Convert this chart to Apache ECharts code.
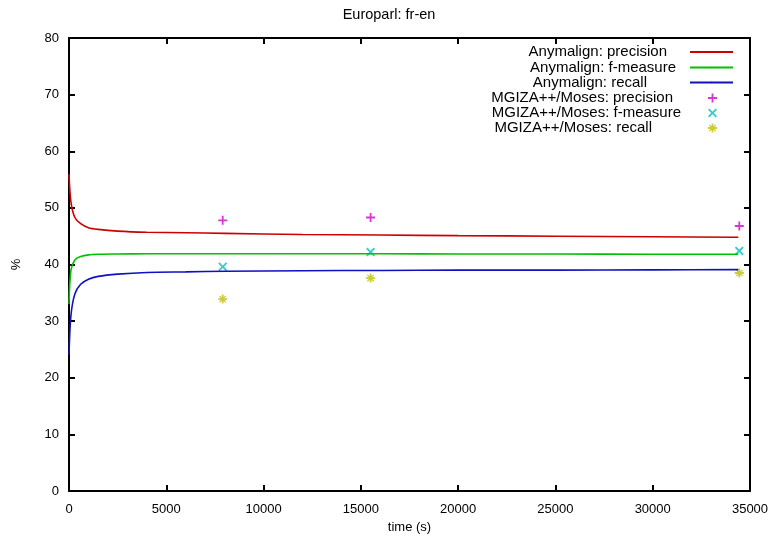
<!DOCTYPE html>
<html>
<head>
<meta charset="utf-8">
<script src="https://cdn.jsdelivr.net/npm/echarts@6/dist/echarts.min.js"></script>
<style>
  html, body { margin: 0; padding: 0; background: #fff; }
  #chart { width: 778px; height: 536px; }
</style>
</head>
<body>
<div id="chart"></div>
<script>
// curve samples (time in s, value in %)
const curveTimes = [0, 100, 300, 600, 1000, 1500, 2500, 4000, 6000, 8000, 12000, 16000, 20000, 25000, 30000, 34400];
const anyPrecision = [56, 51, 48.3, 47.2, 46.5, 46.2, 45.9, 45.7, 45.6, 45.5, 45.3, 45.2, 45.1, 45.0, 44.9, 44.8];
const anyFmeasure = [33, 39, 40.8, 41.4, 41.7, 41.8, 41.85, 41.9, 41.9, 41.9, 41.9, 41.9, 41.85, 41.85, 41.8, 41.8];
const anyRecall = [24, 31, 34.8, 36.5, 37.4, 37.9, 38.3, 38.6, 38.7, 38.8, 38.9, 38.95, 39.0, 39.0, 39.05, 39.1];

// MGIZA++/Moses points
const mosesTimes = [7900, 15500, 34450];
const mosesPrecision = [47.8, 48.3, 46.8];
const mosesFmeasure = [39.6, 42.2, 42.4];
const mosesRecall = [33.9, 37.6, 38.5];

const names = [
  'Anymalign: precision', 'Anymalign: f-measure', 'Anymalign: recall',
  'MGIZA++/Moses: precision', 'MGIZA++/Moses: f-measure', 'MGIZA++/Moses: recall'
];
const colors = ['#cc0000', '#00c000', '#1010c0', '#d000d0', '#00c0c0', '#c0c000'];

const plusPath = 'path://M4,0H6V4H10V6H6V10H4V6H0V4H4Z';
const crossPath = 'path://M0,1.5L1.5,0L5,3.5L8.5,0L10,1.5L6.5,5L10,8.5L8.5,10L5,6.5L1.5,10L0,8.5L3.5,5Z';
const starPath = 'path://M4,0H6V4H10V6H6V10H4V6H0V4H4Z M1,2L2,1L5,4L8,1L9,2L6,5L9,8L8,9L5,6L2,9L1,8L4,5Z';
const lineIcon = 'path://M0,0H40V2H0Z';

const pair = (xs, ys) => xs.map((x, i) => [x, ys[i]]);

const chart = echarts.init(document.getElementById('chart'));

const font = 'Liberation Sans, Arial, sans-serif';
// one legend per row, gnuplot-style key: text then sample on the right
const legendRight = [44, 44, 44, 61, 61, 61];
const legendTop = [44.5, 60, 75, 90.5, 105.5, 120.5];
const textPad = [18, 9, 38, 30, 22, 51];
const legends = names.map((n, i) => ({
  data: [n],
  right: legendRight[i],
  top: legendTop[i],
  align: 'right',
  itemWidth: i < 3 ? 43 : 9,
  itemHeight: i < 3 ? 2 : 9,
  itemGap: 0,
  textStyle: { fontFamily: font, fontSize: 15, color: '#000', padding: [0, textPad[i], 0, 0] },
  padding: 0,
  selectedMode: false
}));

const axisCommon = {
  axisLine: { show: true, onZero: false, lineStyle: { color: '#000', width: 2 } },
  axisTick: { show: true, inside: true, length: 6, lineStyle: { color: '#000', width: 2 } },
  splitLine: { show: false }
};

const lineSeries = [anyPrecision, anyFmeasure, anyRecall].map((ys, i) => ({
  name: names[i],
  type: 'line',
  xAxisIndex: 0, yAxisIndex: 0,
  data: pair(curveTimes, ys),
  smooth: 0.3,
  showSymbol: false,
  symbol: 'none',
  lineStyle: { color: colors[i], width: 1.6 },
  itemStyle: { color: colors[i] },
  legendIcon: lineIcon
}));

const symbols = [plusPath, crossPath, starPath];
const sizes = [9, 9, 9];
const pointSeries = [mosesPrecision, mosesFmeasure, mosesRecall].map((ys, i) => ({
  name: names[i + 3],
  type: 'scatter',
  xAxisIndex: 0, yAxisIndex: 0,
  data: pair(mosesTimes, ys),
  symbol: symbols[i],
  symbolSize: sizes[i],
  itemStyle: { color: colors[i + 3] }
}));

chart.setOption({
  backgroundColor: '#fff',
  animation: false,
  title: {
    text: 'Europarl: fr-en',
    left: 'center',
    top: 7,
    padding: 0,
    textStyle: { fontFamily: font, fontSize: 14.5, fontWeight: 'normal', color: '#000' }
  },
  legend: legends,
  grid: { left: 69, right: 28, top: 38, bottom: 45, outerBoundsMode: 'none' },
  xAxis: [
    Object.assign({
      type: 'value', min: 0, max: 35000, interval: 5000, position: 'bottom',
      name: 'time (s)', nameLocation: 'middle', nameGap: 30,
      nameTextStyle: { fontFamily: font, fontSize: 13, color: '#000' },
      axisLabel: { fontFamily: font, fontSize: 13, color: '#000', margin: 12, formatter: v => String(v) }
    }, axisCommon),
    Object.assign({
      type: 'value', min: 0, max: 35000, interval: 5000, position: 'top',
      axisLabel: { show: false }
    }, axisCommon)
  ],
  yAxis: [
    Object.assign({
      type: 'value', min: 0, max: 80, interval: 10, position: 'left',
      name: '%', nameLocation: 'middle', nameGap: 46, nameRotate: 90,
      nameTextStyle: { fontFamily: font, fontSize: 13, color: '#000' },
      axisLabel: { fontFamily: font, fontSize: 13, color: '#000', margin: 10 }
    }, axisCommon),
    Object.assign({
      type: 'value', min: 0, max: 80, interval: 10, position: 'right',
      axisLabel: { show: false }
    }, axisCommon)
  ],
  series: lineSeries.concat(pointSeries)
});
</script>
</body>
</html>
